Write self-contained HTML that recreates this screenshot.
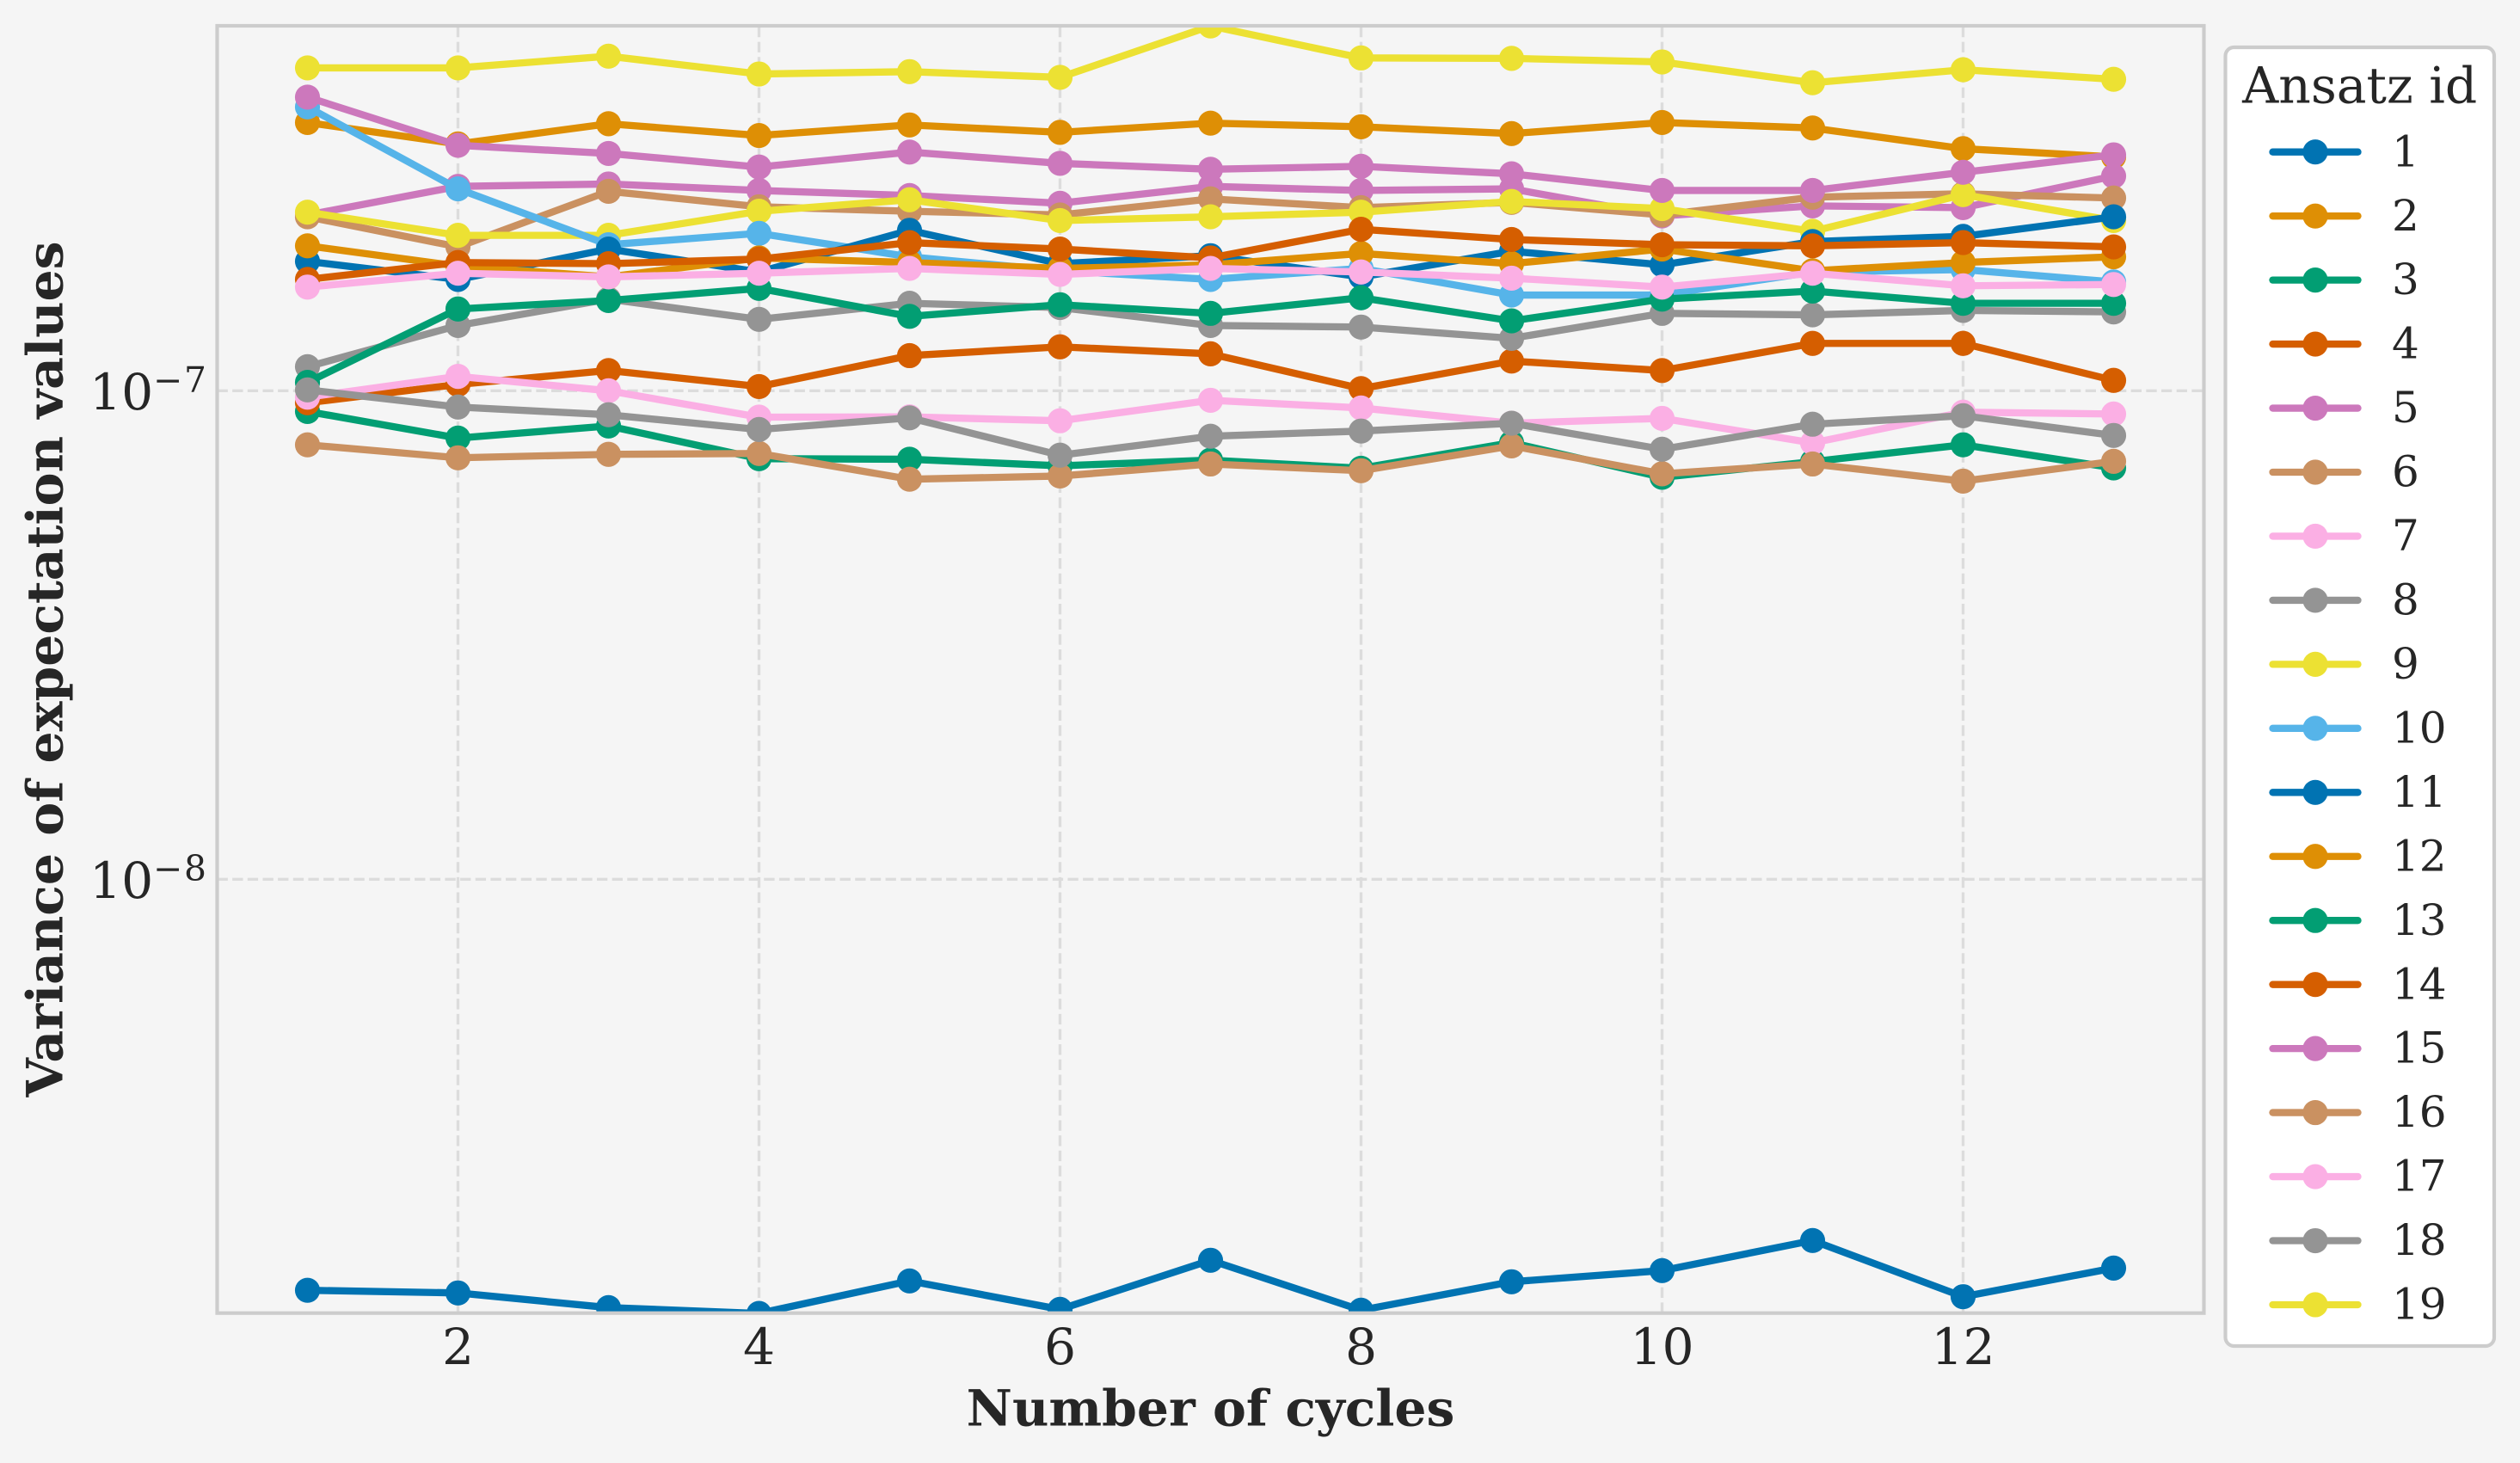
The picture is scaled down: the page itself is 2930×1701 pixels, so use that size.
<!DOCTYPE html>
<html lang="en">
<head>
<meta charset="utf-8">
<title>Variance of expectation values by number of cycles</title>
<style>
  html, body { margin: 0; padding: 0; background: #f5f5f5; }
  svg { display: block; }
  text { font-family: "DejaVu Serif", "Liberation Serif", serif; fill: #262626; }
</style>
</head>
<body>
<svg id="chart" xmlns="http://www.w3.org/2000/svg" width="2930" height="1701" viewBox="0 0 2930 1701">
  <defs>
    <clipPath id="plot-clip"><rect x="252.5" y="30" width="2310" height="1496.7"></rect></clipPath>
  </defs>
  <rect x="0" y="0" width="2930" height="1701" fill="#f5f5f5"></rect>
  <g id="grid"></g>
  <g id="series" clip-path="url(#plot-clip)"></g>
  <rect x="252.5" y="30" width="2310" height="1496.7" fill="none" stroke="#cccccc" stroke-width="4.17"></rect>
  <g id="x-ticks"></g>
  <g id="y-ticks"></g>
  <text x="1407.5" y="1657.5" text-anchor="middle" font-size="58.33" font-weight="bold">Number of cycles</text>
  <text x="72.7" y="778" text-anchor="middle" font-size="58.33" font-weight="bold" transform="rotate(-90 72.7 778)">Variance of expectation values</text>
  <g>
    <rect x="2587.5" y="55" width="312.5" height="1510" rx="10" ry="10" fill="#ffffff" stroke="#cccccc" stroke-width="4.17"></rect>
    <text x="2743.7" y="119.3" text-anchor="middle" font-size="58.33">Ansatz id</text>
    <g id="legend-entries"></g>
  </g>
</svg>
<script>
const cycles = [1, 2, 3, 4, 5, 6, 7, 8, 9, 10, 11, 12, 13];
const xTickValues = [2, 4, 6, 8, 10, 12];
const yTickExponents = [-7, -8];
const ansatzIds = [1, 2, 3, 4, 5, 6, 7, 8, 9, 10, 11, 12, 13, 14, 15, 16, 17, 18, 19];
const palette = ["#0173b2", "#de8f05", "#029e73", "#d55e00", "#cc78bc", "#ca9161", "#fbafe4", "#949494", "#ece133", "#56b4e9"];

// Variance values, in units of 1e-7
const valueUnit = 1e-7;
const series1 = [0.01441, 0.01423, 0.01328, 0.01292, 0.01506, 0.01317, 0.0166, 0.01312, 0.015, 0.01581, 0.01822, 0.01398, 0.016];
const series2 = [3.54, 3.2, 3.52, 3.33, 3.5, 3.38, 3.53, 3.47, 3.36, 3.54, 3.45, 3.13, 3.01];
const series3 = [0.907, 0.8, 0.847, 0.726, 0.724, 0.702, 0.721, 0.694, 0.783, 0.665, 0.716, 0.775, 0.695];
const series4 = [0.945, 1.03, 1.1, 1.02, 1.18, 1.23, 1.19, 1.01, 1.15, 1.1, 1.25, 1.25, 1.05];
const series5 = [2.29, 2.62, 2.65, 2.57, 2.51, 2.42, 2.62, 2.57, 2.59, 2.28, 2.39, 2.37, 2.75];
const series6 = [2.27, 1.97, 2.56, 2.38, 2.33, 2.29, 2.47, 2.37, 2.43, 2.29, 2.49, 2.53, 2.48];
const series7 = [0.97, 1.07, 1.0, 0.883, 0.884, 0.868, 0.956, 0.922, 0.858, 0.878, 0.782, 0.904, 0.896];
const series8 = [1.12, 1.36, 1.54, 1.4, 1.51, 1.48, 1.36, 1.35, 1.28, 1.44, 1.43, 1.46, 1.45];
const series9 = [2.32, 2.08, 2.08, 2.33, 2.46, 2.23, 2.27, 2.32, 2.44, 2.36, 2.12, 2.52, 2.23];
const series10 = [3.81, 2.59, 1.99, 2.1, 1.88, 1.76, 1.69, 1.78, 1.57, 1.57, 1.75, 1.77, 1.67];
const series11 = [1.84, 1.69, 1.95, 1.75, 2.13, 1.82, 1.89, 1.71, 1.93, 1.81, 2.02, 2.07, 2.27];
const series12 = [1.98, 1.8, 1.71, 1.87, 1.83, 1.78, 1.81, 1.91, 1.82, 1.95, 1.76, 1.83, 1.88];
const series13 = [1.04, 1.47, 1.53, 1.62, 1.42, 1.5, 1.44, 1.55, 1.39, 1.54, 1.6, 1.51, 1.51];
const series14 = [1.69, 1.83, 1.82, 1.86, 2.01, 1.95, 1.87, 2.14, 2.04, 1.99, 1.98, 2.01, 1.97];
const series15 = [3.99, 3.18, 3.06, 2.87, 3.08, 2.92, 2.84, 2.88, 2.78, 2.57, 2.57, 2.8, 3.04];
const series16 = [0.775, 0.729, 0.741, 0.744, 0.659, 0.669, 0.708, 0.686, 0.771, 0.676, 0.708, 0.653, 0.717];
const series17 = [1.63, 1.74, 1.71, 1.74, 1.78, 1.73, 1.78, 1.75, 1.7, 1.63, 1.74, 1.64, 1.65];
const series18 = [1.004, 0.926, 0.893, 0.833, 0.88, 0.738, 0.807, 0.827, 0.858, 0.759, 0.854, 0.889, 0.81];
const series19 = [4.58, 4.58, 4.84, 4.45, 4.5, 4.38, 5.58, 4.8, 4.79, 4.71, 4.27, 4.54, 4.34];
const allSeries = [series1, series2, series3, series4, series5, series6, series7, series8, series9, series10, series11, series12, series13, series14, series15, series16, series17, series18, series19];

const SVG_NS = "http://www.w3.org/2000/svg";
const plot = { left: 252.5, right: 2562.5, top: 30, bottom: 1526.7 };

function xScale(cycle) {
  return 357.5 + (cycle - 1) * 175;
}
function yScale(value) {
  return 454.3 - 568 * (Math.log10(value) + 7);
}
function make(tag, attrs, parent) {
  const el = document.createElementNS(SVG_NS, tag);
  Object.keys(attrs).forEach(function (k) { el.setAttribute(k, attrs[k]); });
  parent.appendChild(el);
  return el;
}

const gridGroup = document.getElementById("grid");
const gridStyle = { stroke: "#dcdcdc", "stroke-width": 3.33, "stroke-dasharray": "12.33 5.33", fill: "none" };

xTickValues.forEach(function (tick) {
  const x = xScale(tick);
  const line = make("line", Object.assign({ x1: x, x2: x, y1: plot.bottom, y2: plot.top }, gridStyle), gridGroup);
  
  
  const label = make("text", { x: x, y: 1586, "text-anchor": "middle", "font-size": 58.33 }, document.getElementById("x-ticks"));
  label.textContent = String(tick);
  
  
});

yTickExponents.forEach(function (exponent) {
  const y = yScale(Math.pow(10, exponent));
  const line = make("line", Object.assign({ x1: plot.left, x2: plot.right, y1: y, y2: y }, gridStyle), gridGroup);
  
  
  const label = make("text", { x: 104, y: y + 21.7, "font-size": 58.33 }, document.getElementById("y-ticks"));
  
  
  const base = make("tspan", { x: 104, y: y + 21.7 }, label);
  base.textContent = "10";
  const minus = make("tspan", { x: 178, y: y + 1.7, "font-size": 40.83 }, label);
  minus.textContent = "\u2212";
  const digit = make("tspan", { x: 214, y: y + 1.7, "font-size": 40.83 }, label);
  digit.textContent = String(Math.abs(exponent));
});

const seriesGroup = document.getElementById("series");
allSeries.forEach(function (values, index) {
  const color = palette[index % palette.length];
  const group = make("g", {}, seriesGroup);
  
  
  const points = values.map(function (v, i) {
    return xScale(cycles[i]).toFixed(2) + "," + yScale(v * valueUnit).toFixed(2);
  }).join(" ");
  const line = make("polyline", { points: points, fill: "none", stroke: color, "stroke-width": 8.33, "stroke-linejoin": "round", "stroke-linecap": "round" }, group);
  
  
  values.forEach(function (v, i) {
    const dot = make("circle", { cx: xScale(cycles[i]), cy: yScale(v * valueUnit), r: 14.58, fill: color }, group);
    
    
  });
});

const legendGroup = document.getElementById("legend-entries");
ansatzIds.forEach(function (id, index) {
  const color = palette[index % palette.length];
  const y = 176.7 + index * 74.46;
  const entry = make("g", {}, legendGroup);
  
  
  const swatch = make("line", { x1: 2642.5, x2: 2741.5, y1: y, y2: y, stroke: color, "stroke-width": 8.33, "stroke-linecap": "round" }, entry);
  
  
  const marker = make("circle", { cx: 2692, cy: y, r: 14.58, fill: color }, entry);
  
  
  const label = make("text", { x: 2781, y: y + 16.6, "font-size": 50 }, entry);
  label.textContent = String(id);
  
  
});
</script>
</body>
</html>
